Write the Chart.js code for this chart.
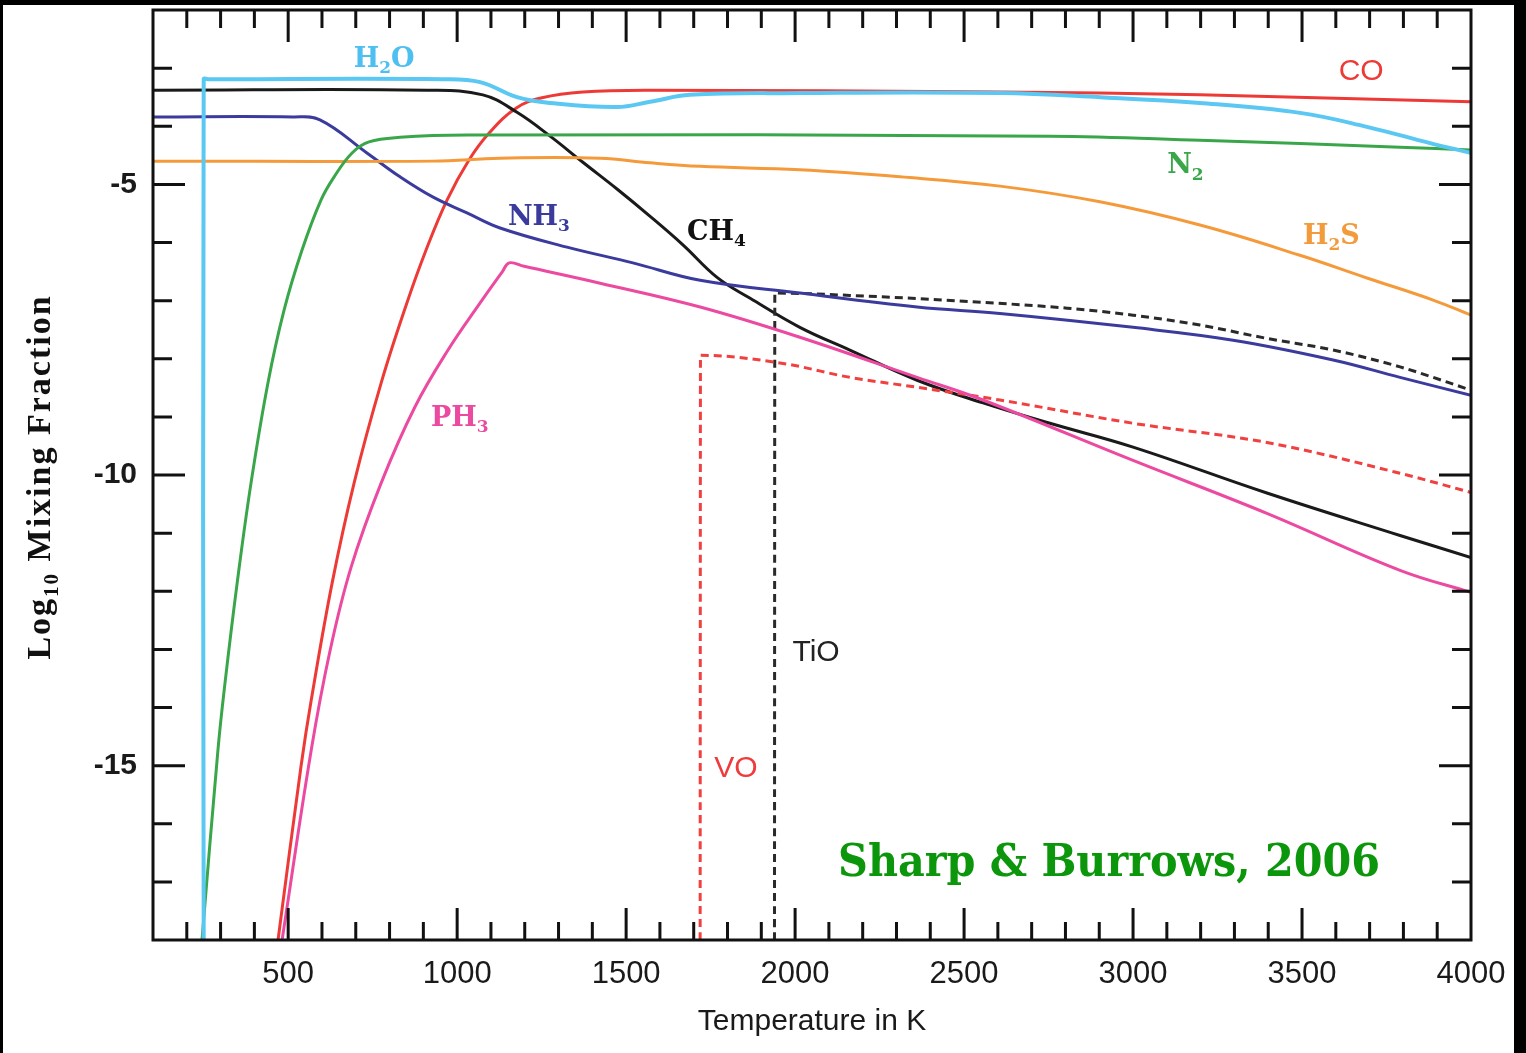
<!DOCTYPE html>
<html>
<head>
<meta charset="utf-8">
<title>Log10 Mixing Fraction vs Temperature</title>
<script src="https://cdn.jsdelivr.net/npm/chart.js@4.4.0/dist/chart.umd.min.js"></script>
<style>
  html, body { margin: 0; padding: 0; background: #000; }
  #wrap { position: absolute; left: 3px; top: 5px; width: 1511px; height: 1048px; background: #fff; }
</style>
</head>
<body>
<div id="wrap"><canvas id="chart" width="1511" height="1048"></canvas></div>
<script>
/* ---------- DATA ---------- */
const tempTicks = [500, 1000, 1500, 2000, 2500, 3000, 3500, 4000];
const logTicks = [-15, -10, -5];

// temperatures (K) and log10 mixing fractions
const h2oT   = [250, 250, 262, 958, 1068, 1177, 1275, 1473, 1571, 1689, 2014, 2606, 2902, 3198, 3494, 3692, 3879, 4000];
const h2oLog = [-18, -3.19, -3.19, -3.19, -3.24, -3.50, -3.60, -3.67, -3.58, -3.46, -3.43, -3.43, -3.50, -3.60, -3.77, -4.01, -4.29, -4.46];

const coT   = [470, 538, 568, 630, 695, 775, 849, 908, 970, 1035, 1094, 1174, 1251, 1372, 1571, 2606, 3198, 4000];
const coLog = [-18, -15.01, -13.88, -11.86, -10.14, -8.42, -7.08, -6.13, -5.27, -4.58, -4.12, -3.69, -3.51, -3.41, -3.38, -3.41, -3.46, -3.58];

const ch4T   = [100, 911, 1076, 1177, 1275, 1372, 1473, 1571, 1668, 1769, 1867, 2014, 2162, 2361, 2556, 2754, 3000, 3396, 3790, 4000];
const ch4Log = [-3.38, -3.38, -3.46, -3.76, -4.17, -4.62, -5.08, -5.55, -6.04, -6.60, -6.96, -7.46, -7.85, -8.37, -8.76, -9.11, -9.52, -10.31, -11.04, -11.42];

const nh3T   = [100, 514, 594, 733, 831, 929, 1029, 1127, 1325, 1520, 1719, 2014, 2361, 2606, 3000, 3296, 3592, 3790, 4000];
const nh3Log = [-3.84, -3.84, -3.89, -4.46, -4.87, -5.22, -5.49, -5.75, -6.08, -6.35, -6.65, -6.87, -7.11, -7.22, -7.46, -7.68, -8.02, -8.32, -8.63];

const n2T   = [245, 292, 313, 349, 390, 440, 488, 541, 597, 636, 689, 739, 831, 1029, 2754, 3198, 3790, 4000];
const n2Log = [-18, -14.74, -13.58, -11.86, -10.14, -8.42, -7.16, -6.13, -5.27, -4.87, -4.46, -4.27, -4.19, -4.15, -4.17, -4.24, -4.36, -4.41];

const h2sT   = [100, 929, 1127, 1423, 1571, 1719, 2014, 2310, 2606, 2902, 3198, 3494, 3692, 3888, 4000];
const h2sLog = [-4.60, -4.60, -4.55, -4.55, -4.63, -4.69, -4.75, -4.87, -5.03, -5.30, -5.70, -6.22, -6.61, -6.99, -7.25];

const ph3T   = [482, 568, 624, 686, 775, 875, 973, 1068, 1133, 1154, 1198, 1423, 1719, 2014, 2361, 2556, 3000, 3396, 3790, 4000];
const ph3Log = [-18, -14.74, -13.02, -11.59, -10.14, -8.83, -7.85, -7.04, -6.51, -6.35, -6.41, -6.70, -7.11, -7.63, -8.32, -8.71, -9.75, -10.66, -11.64, -12.02];

const voT   = [1719, 1720, 1964, 2162, 2361, 2606, 3000, 3396, 3790, 4000];
const voLog = [-18, -7.94, -8.08, -8.32, -8.49, -8.71, -9.11, -9.44, -9.97, -10.30];

const tioT   = [1939, 1940, 2162, 2556, 2805, 3000, 3198, 3396, 3592, 3790, 4000];
const tioLog = [-18, -6.87, -6.91, -7.03, -7.13, -7.25, -7.42, -7.65, -7.85, -8.14, -8.54];

// curve labels ("_" starts a subscript), placed in data coordinates
const notes = [
  { text: 'H_2O', x: 784,  y: -2.81,  color: '#4dbff0', serif: true },
  { text: 'CO',   x: 3675, y: -3.02,  color: '#ee3a36', serif: false },
  { text: 'N_2',  x: 3155, y: -4.65,  color: '#3aa64a', serif: true },
  { text: 'H_2S', x: 3587, y: -5.86,  color: '#f39a3a', serif: true },
  { text: 'NH_3', x: 1242, y: -5.53,  color: '#3b3b9e', serif: true },
  { text: 'CH_4', x: 1767, y: -5.79,  color: '#111111', serif: true },
  { text: 'PH_3', x: 1008, y: -8.99,  color: '#ec4aa0', serif: true },
  { text: 'TiO',  x: 2062, y: -13.02, color: '#222222', serif: false },
  { text: 'VO',   x: 1825, y: -15.01, color: '#ef3b3b', serif: false },
];
const credit = { text: 'Sharp & Burrows, 2006', x: 2929, y: -16.63, color: '#0b960b' };

/* ---------- HELPERS ---------- */
const $ = id => document.getElementById(id);
const SANS = '"Liberation Sans", Arial, sans-serif';
const SERIF = '"DejaVu Serif", "Liberation Serif", serif';

const pts = (T, v) => T.map((t, i) => ({ x: t, y: v[i] }));

// solid curves use a cardinal spline, dashed ones (with a sharp corner) monotone
function curve(label, T, v, color, width, dash) {
  const ds = {
    label: label,
    data: pts(T, v),
    borderColor: color,
    borderWidth: width,
    borderDash: dash || [],
    borderCapStyle: 'butt',
    pointRadius: 0,
    fill: false
  };
  if (dash) ds.cubicInterpolationMode = 'monotone';
  else ds.tension = 0.4;
  return ds;
}

// draw text with subscripts, centred on (cx, cy) = middle of the capitals
function drawRich(ctx, str, cx, cy, size, family, weight, color) {
  const runs = [];
  for (let i = 0; i < str.length; i++) {
    if (str[i] === '_') {
      let s = '';
      while (i + 1 < str.length && /[0-9]/.test(str[i + 1])) { s += str[i + 1]; i++; }
      runs.push({ t: s, sub: true });
    } else if (runs.length && !runs[runs.length - 1].sub) {
      runs[runs.length - 1].t += str[i];
    } else {
      runs.push({ t: str[i], sub: false });
    }
  }
  const big = weight + ' ' + size + 'px ' + family;
  const small = weight + ' ' + Math.round(size * 0.62) + 'px ' + family;
  let w = 0;
  runs.forEach(r => { ctx.font = r.sub ? small : big; r.w = ctx.measureText(r.t).width; w += r.w; });
  let x = cx - w / 2;
  const base = cy + size * 0.35;
  ctx.fillStyle = color;
  ctx.textAlign = 'left';
  ctx.textBaseline = 'alphabetic';
  runs.forEach(r => {
    ctx.font = r.sub ? small : big;
    ctx.fillText(r.t, x, r.sub ? base + size * 0.24 : base);
    x += r.w;
  });
}

/* ---------- FRAME, TICKS, LABELS ---------- */
const decor = {
  id: 'decor',
  afterDatasetsDraw(chart) {
    const ctx = chart.ctx, ca = chart.chartArea;
    const xs = chart.scales.x, ys = chart.scales.y;
    ctx.save();
    ctx.strokeStyle = '#111';
    ctx.lineWidth = 3;
    ctx.lineCap = 'butt';

    // inward ticks on all four sides
    ctx.beginPath();
    for (let v = 200; v < 4000; v += 100) {
      const px = xs.getPixelForValue(v);
      const len = v % 500 === 0 ? 32 : 18;
      ctx.moveTo(px, ca.bottom); ctx.lineTo(px, ca.bottom - len);
      ctx.moveTo(px, ca.top); ctx.lineTo(px, ca.top + len);
    }
    for (let v = -17; v <= -3; v++) {
      const py = ys.getPixelForValue(v);
      const len = v % 5 === 0 ? 32 : 19;
      ctx.moveTo(ca.left, py); ctx.lineTo(ca.left + len, py);
      ctx.moveTo(ca.right, py); ctx.lineTo(ca.right - len, py);
    }
    ctx.stroke();
    ctx.strokeRect(ca.left, ca.top, ca.right - ca.left, ca.bottom - ca.top);

    // curve names
    notes.forEach(n => {
      const x = xs.getPixelForValue(n.x), y = ys.getPixelForValue(n.y);
      if (n.serif) drawRich(ctx, n.text, x, y, 27, SERIF, 'bold', n.color);
      else drawRich(ctx, n.text, x, y, 30, SANS, 'normal', n.color);
    });

    // credit line
    ctx.font = 'bold 44px ' + SERIF;
    ctx.fillStyle = credit.color;
    ctx.textAlign = 'center';
    ctx.textBaseline = 'alphabetic';
    ctx.fillText(credit.text, xs.getPixelForValue(credit.x), ys.getPixelForValue(credit.y) + 16, 542);

    // y axis title, rotated
    ctx.translate(ca.left - 115, (ca.top + ca.bottom) / 2 + 2);
    ctx.rotate(-Math.PI / 2);
    ctx.letterSpacing = '2px';
    drawRich(ctx, 'Log_10 Mixing Fraction', 0, 0, 34, '"Liberation Serif", serif', 'bold', '#111');
    ctx.restore();
  }
};

/* ---------- CHART ---------- */
new Chart($('chart'), {
  type: 'line',
  data: {
    datasets: [
      curve('H2O', h2oT, h2oLog, '#5ac8f2', 4),
      curve('N2', n2T, n2Log, '#3aa64a', 3),
      curve('H2S', h2sT, h2sLog, '#f59a3a', 3),
      curve('NH3', nh3T, nh3Log, '#3b3b9e', 3),
      curve('PH3', ph3T, ph3Log, '#ec4aa0', 3),
      curve('VO', voT, voLog, '#f04040', 3, [8, 5]),
      curve('TiO', tioT, tioLog, '#2a2a2a', 3, [8, 5]),
      curve('CH4', ch4T, ch4Log, '#1a1a1a', 3),
      curve('CO', coT, coLog, '#ee3a36', 3)
    ]
  },
  options: {
    responsive: false,
    maintainAspectRatio: false,
    animation: false,
    events: [],
    layout: { padding: { top: 5, right: 43, left: 0, bottom: 0 } },
    plugins: { legend: { display: false }, tooltip: { enabled: false } },
    scales: {
      x: {
        type: 'linear', min: 100, max: 4000,
        grid: { display: false, drawTicks: false },
        border: { display: false },
        afterBuildTicks: s => { s.ticks = tempTicks.map(v => ({ value: v })); },
        afterFit: s => { s.height = 113; s.paddingLeft = 0; s.paddingRight = 0; },
        ticks: {
          padding: 16, color: '#1a1a1a', autoSkip: false, maxRotation: 0,
          font: { family: SANS, size: 31 },
          callback: v => String(v)
        },
        title: {
          display: true, text: 'Temperature in K', color: '#1a1a1a',
          font: { family: SANS, size: 30 },
          padding: { top: 0, bottom: 13 }
        }
      },
      y: {
        type: 'linear', min: -18, max: -2,
        grid: { display: false, drawTicks: false },
        border: { display: false },
        afterBuildTicks: s => { s.ticks = logTicks.map(v => ({ value: v })); },
        afterFit: s => { s.width = 150; s.paddingTop = 0; s.paddingBottom = 0; },
        ticks: {
          padding: 16, color: '#1a1a1a',
          font: { family: SANS, size: 30, weight: 'bold' },
          callback: v => String(v)
        }
      }
    }
  },
  plugins: [decor]
});
</script>
</body>
</html>
